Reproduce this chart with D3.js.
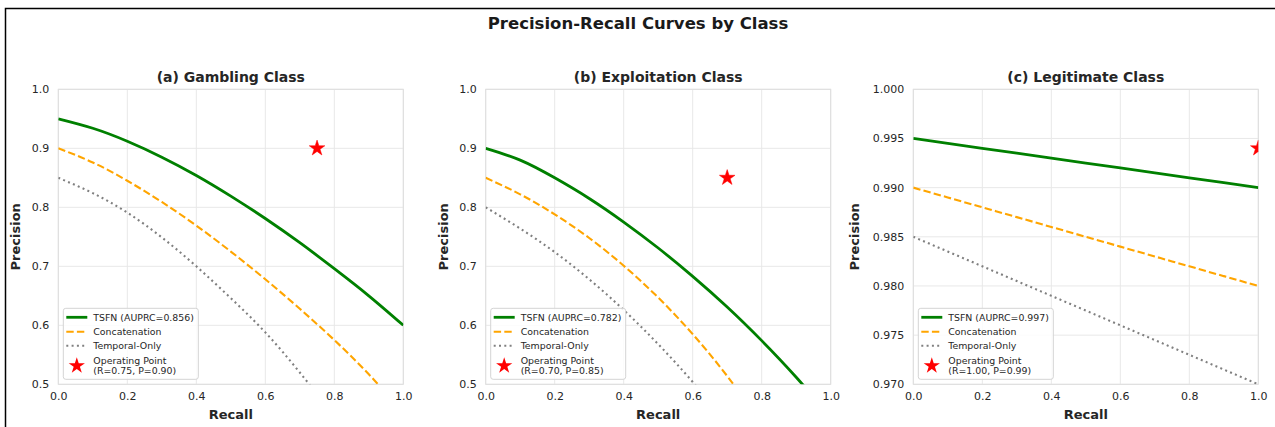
<!DOCTYPE html>
<html>
<head>
<meta charset="utf-8">
<script src="https://cdn.jsdelivr.net/npm/d3@7"></script>
<style>
  html, body { margin: 0; padding: 0; background: #fff; }
  svg { display: block; font-family: "DejaVu Sans", sans-serif; }
</style>
</head>
<body>
<svg id="chart" width="1275" height="427"></svg>
<script>
// ---- Data ----
const recall = [0, 0.1, 0.2, 0.3, 0.4, 0.5, 0.6, 0.7, 0.8, 0.9, 1.0];

const gamblingTSFN     = [0.950, 0.934, 0.912, 0.885, 0.854, 0.819, 0.781, 0.740, 0.696, 0.650, 0.600];
const gamblingConcat   = [0.900, 0.876, 0.845, 0.809, 0.769, 0.725, 0.678, 0.628, 0.575, 0.517, 0.452];
const gamblingTemporal = [0.850, 0.824, 0.791, 0.749, 0.700, 0.646, 0.588, 0.520, 0.445, 0.365, 0.280];

const exploitTSFN      = [0.900, 0.880, 0.850, 0.815, 0.775, 0.731, 0.683, 0.631, 0.574, 0.512, 0.444];
const exploitConcat    = [0.850, 0.822, 0.788, 0.748, 0.701, 0.647, 0.585, 0.514, 0.433, 0.343, 0.243];
const exploitTemporal  = [0.800, 0.764, 0.724, 0.678, 0.626, 0.568, 0.504, 0.433, 0.355, 0.270, 0.180];

const legitTSFN        = [0.9950, 0.9945, 0.9940, 0.9935, 0.9930, 0.9925, 0.9920, 0.9915, 0.9910, 0.9905, 0.9900];
const legitConcat      = [0.9900, 0.9890, 0.9880, 0.9870, 0.9860, 0.9850, 0.9840, 0.9830, 0.9820, 0.9810, 0.9800];
const legitTemporal    = [0.9850, 0.9835, 0.9820, 0.9805, 0.9790, 0.9775, 0.9760, 0.9745, 0.9730, 0.9715, 0.9700];

const panelTitles = ["(a) Gambling Class", "(b) Exploitation Class", "(c) Legitimate Class"];
const auprc = ["0.856", "0.782", "0.997"];
const opRecall = [0.75, 0.70, 1.00];
const opPrecision = [0.90, 0.85, 0.994];
const opLabels = ["(R=0.75, P=0.90)", "(R=0.70, P=0.85)", "(R=1.00, P=0.99)"];
const xTicks = [0, 0.2, 0.4, 0.6, 0.8, 1.0];
const yTicksAB = [0.5, 0.6, 0.7, 0.8, 0.9, 1.0];
const yTicksC = [0.970, 0.975, 0.980, 0.985, 0.990, 0.995, 1.000];
const seriesNames = ["TSFN", "Concatenation", "Temporal-Only"];

// ---- Layout / styles ----
const svg = d3.select("#chart");
const W = 1275, H = 427;
const plotW = 345, plotH = 295, plotTop = 89.3;
const lefts = [58.3, 485.7, 913.3];
const textColor = "#262626";
const gridColor = "#e8e8e8";
const spineColor = "#dedede";
const styles = [
  { color: "#008000", width: 2.8, dash: null },
  { color: "#FFA500", width: 2.1, dash: "7.4,3.2" },
  { color: "#808080", width: 2.1, dash: "2,3.3" }
];

// figure border
svg.append("rect").attr("x", 5.5).attr("y", 8.5).attr("width", W + 20).attr("height", H + 20)
  .attr("fill", "none").attr("stroke", "#000").attr("stroke-width", 1.5);

svg.append("text").attr("x", 638).attr("y", 29).attr("text-anchor", "middle")
  .attr("font-size", 16.5).attr("font-weight", "bold").attr("fill", "#1a1a1a")
  .text("Precision-Recall Curves by Class");

const panels = [
  { series: [gamblingTSFN, gamblingConcat, gamblingTemporal], domain: [0.5, 1.0], ticks: yTicksAB, fmt: ".1f" },
  { series: [exploitTSFN, exploitConcat, exploitTemporal], domain: [0.5, 1.0], ticks: yTicksAB, fmt: ".1f" },
  { series: [legitTSFN, legitConcat, legitTemporal], domain: [0.970, 1.000], ticks: yTicksC, fmt: ".3f" }
];

panels.forEach((p, i) => {
  const g = svg.append("g").attr("transform", `translate(${lefts[i]},${plotTop})`);
  const x = d3.scaleLinear().domain([0, 1]).range([0, plotW]);
  const y = d3.scaleLinear().domain(p.domain).range([plotH, 0]);

  const clipId = "clip" + i;
  g.append("clipPath").attr("id", clipId).append("rect")
    .attr("x", 0).attr("y", 0).attr("width", plotW).attr("height", plotH);

  // grid
  g.append("g").selectAll("line").data(xTicks).join("line")
    .attr("x1", d => x(d)).attr("x2", d => x(d)).attr("y1", 0).attr("y2", plotH)
    .attr("stroke", gridColor).attr("stroke-width", 1);
  g.append("g").selectAll("line").data(p.ticks).join("line")
    .attr("y1", d => y(d)).attr("y2", d => y(d)).attr("x1", 0).attr("x2", plotW)
    .attr("stroke", gridColor).attr("stroke-width", 1);

  // spines
  g.append("rect").attr("x", 0).attr("y", 0).attr("width", plotW).attr("height", plotH)
    .attr("fill", "none").attr("stroke", spineColor).attr("stroke-width", 1);

  // axes (labels only)
  const xAxis = g.append("g").attr("transform", `translate(0,${plotH})`)
    .call(d3.axisBottom(x).tickValues(xTicks).tickFormat(d3.format(".1f")).tickSize(0).tickPadding(8));
  const yAxis = g.append("g")
    .call(d3.axisLeft(y).tickValues(p.ticks).tickFormat(d3.format(p.fmt)).tickSize(0).tickPadding(9));
  [xAxis, yAxis].forEach(a => {
    a.select(".domain").remove();
    a.selectAll("text").attr("font-size", 11).attr("fill", textColor)
      .attr("font-family", "DejaVu Sans, sans-serif");
  });

  // lines
  const line = d3.line().x((d, k) => x(recall[k])).y(d => y(d)).curve(d3.curveNatural);
  const lg = g.append("g").attr("clip-path", `url(#${clipId})`);
  p.series.forEach((s, k) => {
    lg.append("path").datum(s).attr("d", line)
      .attr("fill", "none").attr("stroke", styles[k].color).attr("stroke-width", styles[k].width)
      .attr("stroke-dasharray", styles[k].dash).attr("stroke-linecap", "butt");
  });

  // operating point
  lg.append("path").attr("d", d3.symbol(d3.symbolStar, 76)())
    .attr("transform", `translate(${x(opRecall[i])},${y(opPrecision[i])})`)
    .attr("fill", "#ff0000").attr("stroke", "#ff0000").attr("stroke-width", 0.5);

  // titles
  g.append("text").attr("x", plotW / 2).attr("y", -7.5).attr("text-anchor", "middle")
    .attr("font-size", 14).attr("font-weight", "bold").attr("fill", textColor).text(panelTitles[i]);
  g.append("text").attr("x", plotW / 2).attr("y", plotH + 35).attr("text-anchor", "middle")
    .attr("font-size", 13).attr("font-weight", "bold").attr("fill", textColor).text("Recall");
  const yLabX = i === 2 ? -54 : -38;
  g.append("text").attr("transform", `translate(${yLabX},${plotH / 2}) rotate(-90)`)
    .attr("text-anchor", "middle").attr("font-size", 13).attr("font-weight", "bold")
    .attr("fill", textColor).text("Precision");

  // legend
  const leg = g.append("g").attr("transform", `translate(5,${plotH - 76})`);
  leg.append("rect").attr("x", 0).attr("y", 0).attr("width", 135).attr("height", 71)
    .attr("rx", 2.5).attr("fill", "#fff").attr("fill-opacity", 0.85)
    .attr("stroke", "#d4d4d4").attr("stroke-width", 1);
  const labels = [`TSFN (AUPRC=${auprc[i]})`, seriesNames[1], seriesNames[2]];
  const rowY = [9, 23.5, 37.5];
  labels.forEach((t, k) => {
    leg.append("line").attr("x1", 3).attr("x2", 24).attr("y1", rowY[k]).attr("y2", rowY[k])
      .attr("stroke", styles[k].color).attr("stroke-width", styles[k].width)
      .attr("stroke-dasharray", styles[k].dash);
    leg.append("text").attr("x", 30).attr("y", rowY[k]).attr("dy", "0.35em")
      .attr("font-size", 9.4).attr("fill", textColor).text(t);
  });
  leg.append("path").attr("d", d3.symbol(d3.symbolStar, 82)())
    .attr("transform", "translate(13.5,57.5)").attr("fill", "#ff0000");
  leg.append("text").attr("x", 30).attr("y", 52).attr("dy", "0.35em")
    .attr("font-size", 9.4).attr("fill", textColor).text("Operating Point");
  leg.append("text").attr("x", 30).attr("y", 62.5).attr("dy", "0.35em")
    .attr("font-size", 9.4).attr("fill", textColor).text(opLabels[i]);
});
</script>
</body>
</html>
